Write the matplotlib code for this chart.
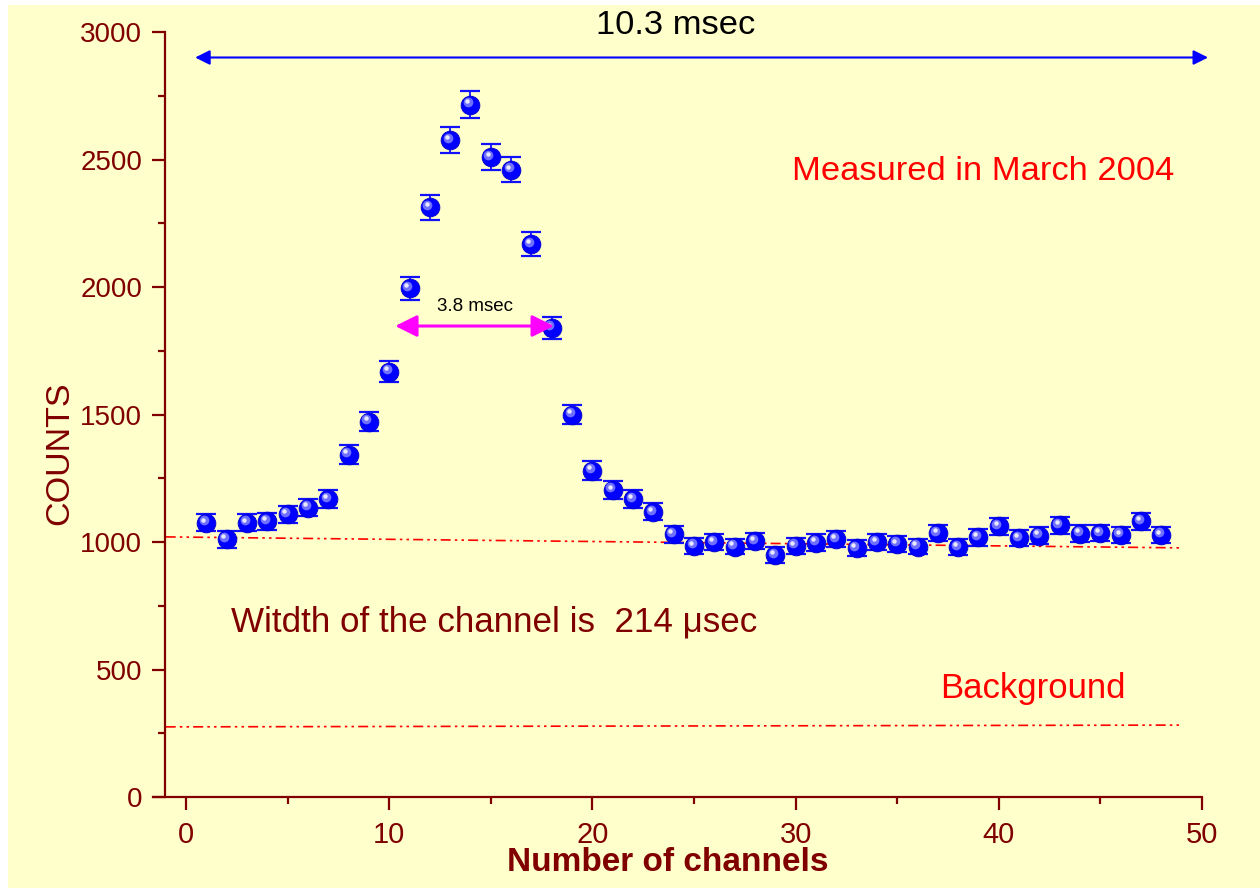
import matplotlib
matplotlib.use("Agg")
import matplotlib.pyplot as plt
import matplotlib.transforms as mtransforms
from matplotlib.patches import Rectangle
from matplotlib.ticker import MultipleLocator
import numpy as np

# ---------------- data ----------------
channels = list(range(1, 49))
counts = [1075, 1010, 1075, 1082, 1108, 1135, 1168, 1343, 1472, 1668,
          1995, 2312, 2575, 2715, 2510, 2460, 2168, 1840, 1500, 1280,
          1205, 1168, 1118, 1030, 985, 1000, 982, 1003, 948, 985,
          998, 1012, 975, 1000, 993, 982, 1035, 980, 1018, 1062,
          1015, 1025, 1065, 1033, 1035, 1028, 1082, 1028]
errors = [33, 32, 33, 33, 33, 34, 34, 37, 38, 41,
          45, 48, 51, 52, 50, 50, 47, 43, 39, 36,
          35, 34, 33, 32, 31, 32, 31, 32, 31, 31,
          32, 32, 31, 32, 31, 31, 32, 31, 32, 33,
          32, 32, 33, 32, 32, 32, 33, 32]

fit_x = [-1.0, 49.0]
fit_y = [1020, 977]
bg_x = [-1.0, 49.0]
bg_y = [275, 282]

xticks = [0, 10, 20, 30, 40, 50]
yticks = [0, 500, 1000, 1500, 2000, 2500, 3000]

DARKRED = "#800000"
YELLOW = "#FFFFCC"
SANS = ["Liberation Sans", "DejaVu Sans"]
NARROW = ["Liberation Sans Narrow", "Liberation Sans", "DejaVu Sans"]

plt.rcParams["font.family"] = SANS

fig = plt.figure(figsize=(12.6, 8.88), dpi=100, facecolor="white")
fig.patches.append(Rectangle((8 / 1260, 0), 1 - 8 / 1260, 1 - 5 / 888,
                             transform=fig.transFigure, facecolor=YELLOW,
                             edgecolor="none", zorder=-10))

ax = fig.add_axes([153 / 1260, 1 - 797 / 888, (1202 - 153) / 1260, (797 - 32) / 888])
ax.set_facecolor("none")
ax.set_xlim(-1.624, 50)
ax.set_ylim(0, 3000)

for s in ["top", "right"]:
    ax.spines[s].set_visible(False)
for s in ["left", "bottom"]:
    ax.spines[s].set_color(DARKRED)
    ax.spines[s].set_linewidth(1.6)
ax.spines["left"].set_position(("data", -1.03))

ax.set_xticks(xticks)
ax.set_yticks(yticks)
ax.xaxis.set_minor_locator(MultipleLocator(5))
ax.yaxis.set_minor_locator(MultipleLocator(250))
ax.tick_params(which="major", direction="out", length=9.5, width=1.6, color=DARKRED,
               labelcolor=DARKRED, labelsize=20, pad=7)
ax.tick_params(which="minor", direction="out", length=5, width=1.6, color=DARKRED)
ax.tick_params(axis="x", which="major", labelsize=21, pad=8)
for lab in ax.get_xticklabels():
    lab.set_family(NARROW)

# fitted lines
ax.plot(fit_x, fit_y, color="red", lw=1.2, dashes=[6, 2.5, 1.5, 2.5, 1.5, 2.5], zorder=2)
ax.plot(bg_x, bg_y, color="red", lw=1.2, dashes=[6, 2.5, 1.5, 2.5, 1.5, 2.5], zorder=2)

# data with error bars
ax.errorbar(channels, counts, yerr=errors, fmt="none", ecolor="#1010FF",
            elinewidth=1.3, capsize=7.5, capthick=1.6, zorder=3)
ax.plot(channels, counts, "o", color="#0000FF", markersize=13.5,
        markeredgecolor="#0000CC", markeredgewidth=0.6, zorder=4)
off1 = mtransforms.offset_copy(ax.transData, fig=fig, x=-2.4, y=2.4, units="dots")
off2 = mtransforms.offset_copy(ax.transData, fig=fig, x=-3.2, y=3.2, units="dots")
ax.plot(channels, counts, "o", color="#7070FF", markersize=7, markeredgewidth=0,
        transform=off1, zorder=5)
ax.plot(channels, counts, "o", color="#E8E8FF", markersize=3.2, markeredgewidth=0,
        transform=off2, zorder=6)

# 10.3 msec arrow
ax.annotate("", xy=(50.3, 2900), xytext=(0.45, 2900),
            arrowprops=dict(arrowstyle="<|-|>", color="#0000FF", lw=1.5,
                            mutation_scale=22, shrinkA=0, shrinkB=0),
            annotation_clip=False)
ax.text(24.1, 3027, "10.3 msec", ha="center", va="center", fontsize=24.8,
        color="black", clip_on=False)

# 3.8 msec arrow
ax.annotate("", xy=(18.1, 1847), xytext=(10.3, 1847),
            arrowprops=dict(arrowstyle="<|-|>,head_length=0.6,head_width=0.3",
                            color="#FF00FF", lw=2.2,
                            mutation_scale=22, shrinkA=0, shrinkB=0), zorder=6)
ax.text(14.2, 1925, "3.8 msec", ha="center", va="center", fontsize=13.5, color="black")

ax.text(29.8, 2451, "Measured in March 2004", ha="left", va="center", fontsize=24.8,
        color="red")
ax.text(2.2, 686, "Witdth of the channel is  214 \u03bcsec", ha="left", va="center",
        fontsize=25.2, color=DARKRED)
ax.text(37.1, 427, "Background", ha="left", va="center", fontsize=25, color="red")

fig.text(60 / 1260, 1 - 453 / 888, "COUNTS", rotation=90, ha="center", va="center",
         fontsize=24.5, color=DARKRED)
fig.text(668 / 1260, 1 - 862 / 888, "Number of channels", ha="center", va="center",
         fontsize=24, fontweight="bold", color=DARKRED, family=NARROW)

fig.savefig("out.png", dpi=100, facecolor=fig.get_facecolor())
